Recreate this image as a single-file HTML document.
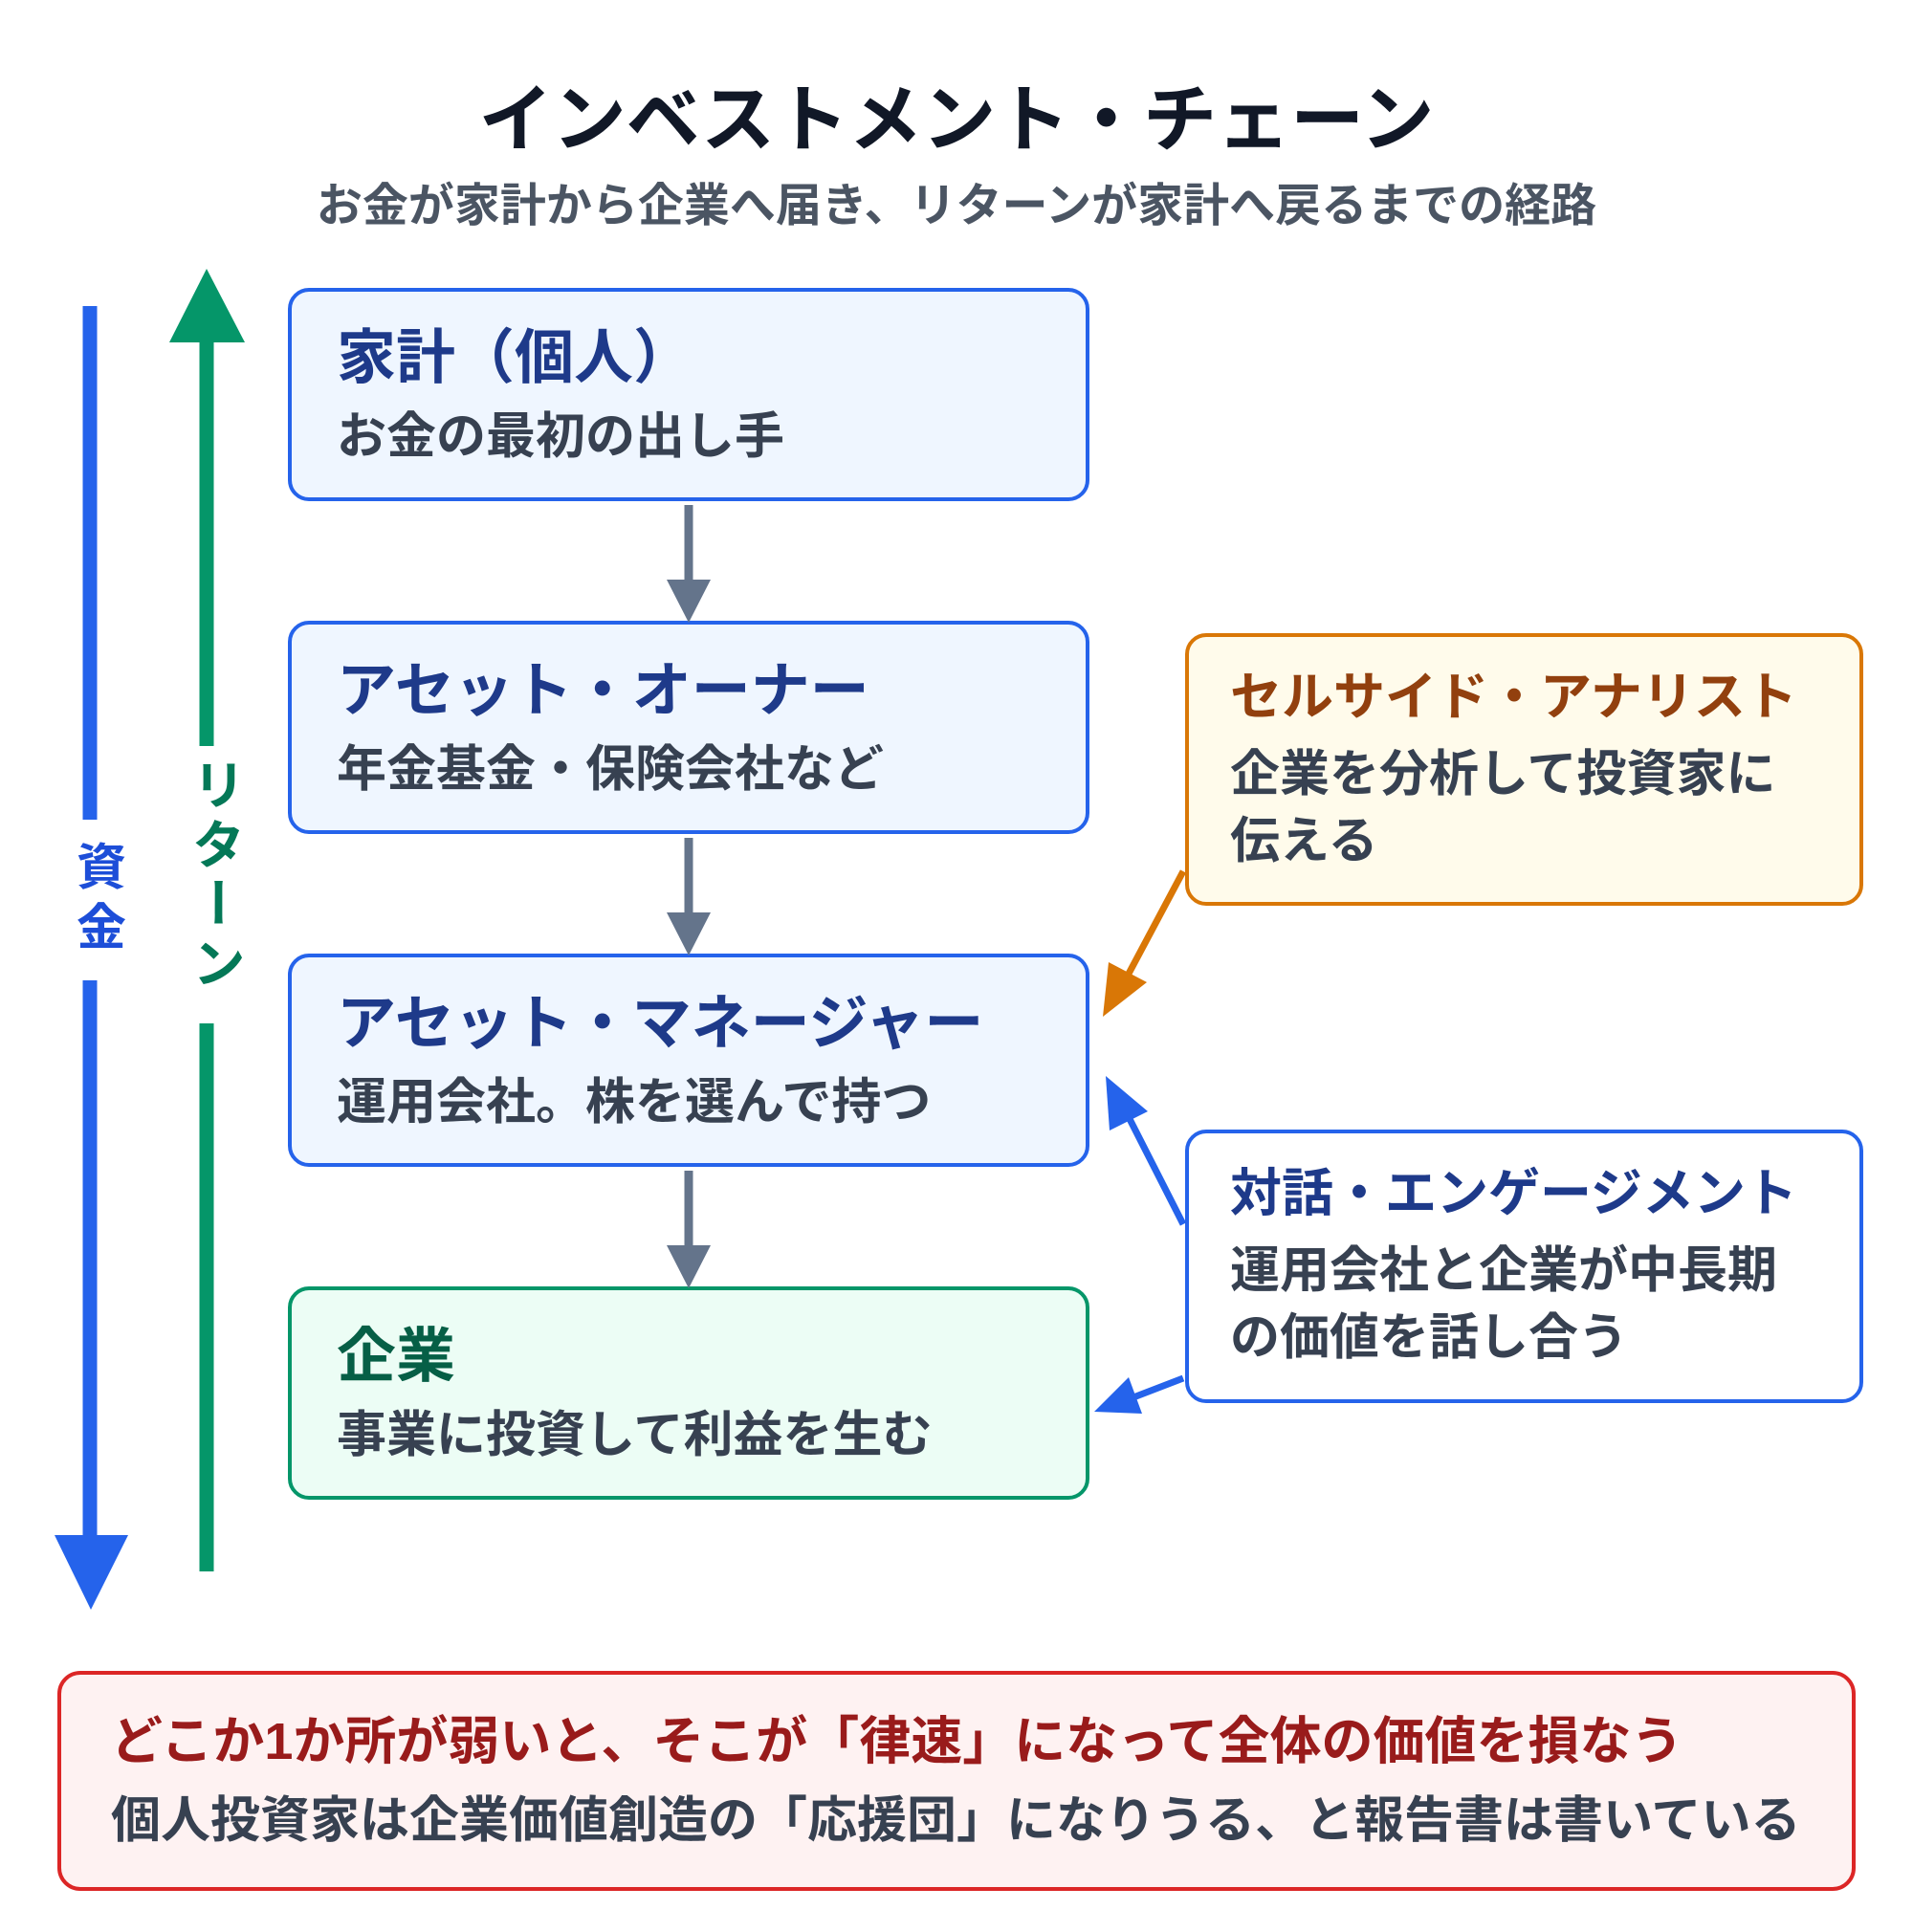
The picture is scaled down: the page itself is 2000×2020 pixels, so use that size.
<!DOCTYPE html>
<html><head><meta charset="utf-8"><style>
html,body{margin:0;padding:0;background:#fff;}
svg{display:block;}
text{font-family:"Liberation Sans","Noto Sans CJK JP",sans-serif;}
</style></head><body>
<svg width="2000" height="2020" viewBox="0 0 2000 2020" xmlns="http://www.w3.org/2000/svg">
<text x="1000" y="152" text-anchor="middle" font-size="77" font-weight="700" fill="#111827">インベストメント・チェーン</text>
<text x="1000" y="231" text-anchor="middle" font-size="48" font-weight="600" fill="#4b5563">お金が家計から企業へ届き、リターンが家計へ戻るまでの経路</text>

<!-- left blue arrow -->
<line x1="94" y1="320" x2="94" y2="857" stroke="#2563eb" stroke-width="15"/>
<line x1="94" y1="1025" x2="94" y2="1610" stroke="#2563eb" stroke-width="15"/>
<polygon points="57,1605 134,1605 95,1683" fill="#2563eb"/>
<text x="106" y="925" text-anchor="middle" font-size="52" font-weight="700" fill="#1d4ed8">資</text>
<text x="106" y="988" text-anchor="middle" font-size="52" font-weight="700" fill="#1d4ed8">金</text>

<!-- green arrow -->
<polygon points="177,358 256,358 216,281" fill="#059669"/>
<line x1="216" y1="355" x2="216" y2="780" stroke="#059669" stroke-width="15"/>
<line x1="216" y1="1070" x2="216" y2="1643" stroke="#059669" stroke-width="15"/>
<text x="225" y="792" font-size="56" font-weight="700" fill="#047857" letter-spacing="6" style="writing-mode:vertical-rl;text-orientation:upright">リターン</text>

<!-- main boxes -->
<rect x="303" y="303" width="834" height="219" rx="20" fill="#eff6ff" stroke="#2563eb" stroke-width="4"/>
<text x="352" y="395" font-size="62" font-weight="700" fill="#1e3a8a">家計（個人）</text>
<text x="352" y="474" font-size="52" font-weight="600" fill="#374151">お金の最初の出し手</text>

<rect x="303" y="651" width="834" height="219" rx="20" fill="#eff6ff" stroke="#2563eb" stroke-width="4"/>
<text x="352" y="743" font-size="62" font-weight="700" fill="#1e3a8a">アセット・オーナー</text>
<text x="352" y="822" font-size="52" font-weight="600" fill="#374151">年金基金・保険会社など</text>

<rect x="303" y="999" width="834" height="219" rx="20" fill="#eff6ff" stroke="#2563eb" stroke-width="4"/>
<text x="352" y="1091" font-size="62" font-weight="700" fill="#1e3a8a">アセット・マネージャー</text>
<text x="352" y="1170" font-size="52" font-weight="600" fill="#374151">運用会社。株を選んで持つ</text>

<rect x="303" y="1347" width="834" height="219" rx="20" fill="#ecfdf5" stroke="#059669" stroke-width="4"/>
<text x="352" y="1439" font-size="62" font-weight="700" fill="#065f46">企業</text>
<text x="352" y="1518" font-size="52" font-weight="600" fill="#374151">事業に投資して利益を生む</text>

<!-- gray arrows -->
<g stroke="#64748b" stroke-width="9">
<line x1="720" y1="528" x2="720" y2="610"/>
<line x1="720" y1="876" x2="720" y2="958"/>
<line x1="720" y1="1224" x2="720" y2="1306"/>
</g>
<g fill="#64748b">
<polygon points="697,606 743,606 720,651"/>
<polygon points="697,954 743,954 720,999"/>
<polygon points="697,1302 743,1302 720,1347"/>
</g>

<!-- right boxes -->
<rect x="1241" y="664" width="705" height="281" rx="20" fill="#fffbeb" stroke="#d97706" stroke-width="4"/>
<text x="1286" y="747" font-size="54" font-weight="700" fill="#92400e">セルサイド・アナリスト</text>
<text x="1286" y="827" font-size="52" font-weight="600" fill="#374151">企業を分析して投資家に</text>
<text x="1286" y="897" font-size="52" font-weight="600" fill="#374151">伝える</text>

<rect x="1241" y="1183" width="705" height="282" rx="20" fill="#fff" stroke="#2563eb" stroke-width="4"/>
<text x="1286" y="1266" font-size="54" font-weight="700" fill="#1e3a8a">対話・エンゲージメント</text>
<text x="1286" y="1346" font-size="52" font-weight="600" fill="#374151">運用会社と企業が中長期</text>
<text x="1286" y="1416" font-size="52" font-weight="600" fill="#374151">の価値を話し合う</text>

<!-- side arrows -->
<line x1="1237" y1="911" x2="1180" y2="1018" stroke="#d97706" stroke-width="7"/>
<polygon points="1153,1063 1159,1006 1199,1027" fill="#d97706"/>
<line x1="1237" y1="1280" x2="1180" y2="1168" stroke="#2563eb" stroke-width="7"/>
<polygon points="1156,1125 1160,1182 1200,1162" fill="#2563eb"/>
<line x1="1237" y1="1441" x2="1185" y2="1461" stroke="#2563eb" stroke-width="7"/>
<polygon points="1144,1476 1180,1440 1194,1478" fill="#2563eb"/>

<!-- bottom box -->
<rect x="62" y="1749" width="1876" height="226" rx="22" fill="#fef2f2" stroke="#dc2626" stroke-width="4"/>
<text x="116" y="1839" font-size="54" font-weight="700" fill="#991b1b">どこか1か所が弱いと、そこが「律速」になって全体の価値を損なう</text>
<text x="116" y="1921" font-size="52" font-weight="600" fill="#374151">個人投資家は企業価値創造の「応援団」になりうる、と報告書は書いている</text>
</svg>
</body></html>
